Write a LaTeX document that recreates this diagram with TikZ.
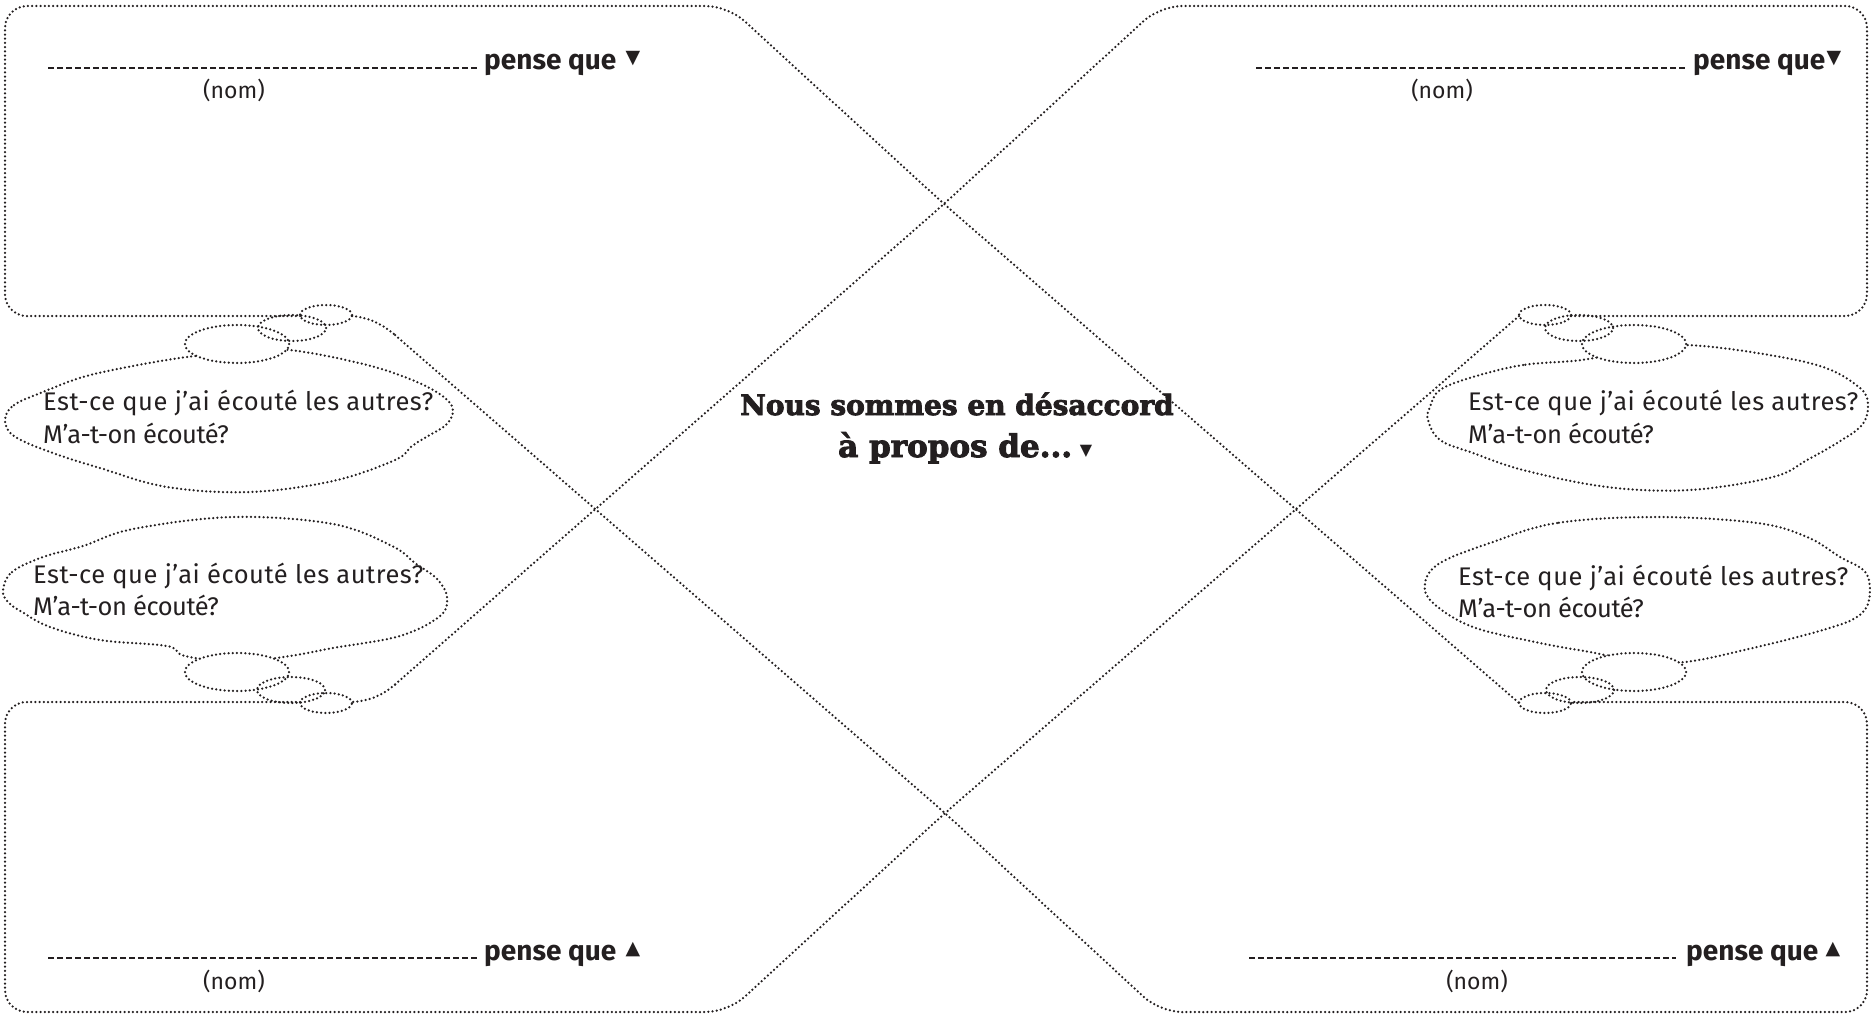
\documentclass[tikz,border=0pt]{standalone}
\usepackage{fontspec}
\setmainfont{Fira Sans}
\newfontfamily\slabfont[FakeBold=3]{DejaVu Serif}
\newfontfamily\symfont{DejaVu Sans}
\definecolor{ink}{HTML}{231F20}
\begin{document}
\begin{tikzpicture}[x=1pt,y=-1pt,
  dotline/.style={draw=ink, line width=2.5pt, line cap=round, dash pattern=on 0pt off 4.2pt},
  nameline/.style={draw=ink, line width=1.3pt, dash pattern=on 6pt off 3pt},
  question/.style={anchor=base west, inner sep=0pt, text=ink, font=\fontsize{25.5}{30}\selectfont\addfontfeature{LetterSpace=2}},
  questiontight/.style={question, font=\fontsize{25.5}{30}\selectfont\addfontfeature{LetterSpace=-2}},
  pense/.style={anchor=base west, inner sep=0pt, text=ink, font=\fontsize{28}{30}\selectfont\bfseries},
  nom/.style={anchor=base, inner sep=0pt, text=ink, font=\fontsize{23}{28}\selectfont},
  tri/.style={anchor=center, inner sep=0pt, text=ink, font=\symfont\fontsize{19}{20}\selectfont},
  title/.style={inner sep=0pt, text=ink, font=\slabfont\bfseries\fontsize{28}{32}\selectfont},
  bigell/.style={dotline, fill=white},
]
\useasboundingbox (0,0) rectangle (1871,1014);

% ---------- thought bubbles ----------
\draw[dotline] plot[smooth cycle, tension=0.6] coordinates {
 (5,420) (14,405) (43,392) (83,377) (133,366) (187,357) (240,352) (290,350)
 (367,365) (417,382) (445,398) (453,411) (446,425) (428,436) (412,446) (395,460)
 (333,481) (250,492) (167,487) (100,468) (50,452) (14,436)};
\draw[dotline] plot[smooth cycle, tension=0.6] coordinates {
 (3,590) (12,572) (43,557) (83,546) (133,529) (233,517) (333,524) (392,546)
 (415,563) (437,579) (447,597) (440,616) (400,636) (333,648) (290,656) (237,662)
 (185,656) (167,646) (100,640) (50,627) (22,612) (8,602)};
\draw[dotline] plot[smooth cycle, tension=0.6] coordinates {
 (1582,360) (1523,365) (1473,377) (1440,390) (1430,407) (1428,420) (1440,440)
 (1473,453) (1523,470) (1607,487) (1690,490) (1773,477) (1807,460) (1837,443)
 (1862,425) (1868,405) (1860,388) (1823,367) (1757,353) (1685,345) (1634,350)};
\draw[dotline] plot[smooth cycle, tension=0.6] coordinates {
 (1657,517) (1557,523) (1490,543) (1440,563) (1425,583) (1433,603) (1473,627)
 (1540,643) (1590,652) (1634,660) (1685,662) (1757,647) (1823,630) (1857,617)
 (1869,600) (1866,573) (1840,557) (1807,537) (1757,523)};

% ---------- small ellipses of the bubble chains ----------
\draw[bigell] (237,344) ellipse [x radius=52pt, y radius=19pt];
\draw[dotline] (292,328) ellipse [x radius=34pt, y radius=13pt];
\draw[dotline] (326,315) ellipse [x radius=26pt, y radius=10pt];

\draw[bigell] (237,672) ellipse [x radius=52pt, y radius=19pt];
\draw[dotline] (291,690) ellipse [x radius=34pt, y radius=13pt];
\draw[dotline] (326,703) ellipse [x radius=26pt, y radius=10pt];

\draw[bigell] (1634,344) ellipse [x radius=52pt, y radius=19pt];
\draw[dotline] (1579,328) ellipse [x radius=34pt, y radius=13pt];
\draw[dotline] (1545,315) ellipse [x radius=26pt, y radius=10pt];

\draw[bigell] (1634,672) ellipse [x radius=52pt, y radius=19pt];
\draw[dotline] (1580,690) ellipse [x radius=34pt, y radius=13pt];
\draw[dotline] (1545,703) ellipse [x radius=26pt, y radius=10pt];

% ---------- key points ----------
\coordinate (xTop) at (944,204);
\coordinate (xBot) at (945,813);
\coordinate (tlIn) at (300,316);
\coordinate (tlOut) at (352,316);
\coordinate (tlBend) at (395,335);
\coordinate (blIn) at (300,702);
\coordinate (blOut) at (352,702);
\coordinate (blBend) at (395,684.5);
\coordinate (trIn) at (1571,316);
\coordinate (trOut) at (1519,316);
\coordinate (brIn) at (1571,702);
\coordinate (brOut) at (1519,703);

% ---------- boxes and crossing lines ----------
\draw[dotline, rounded corners=22pt] (tlIn) -- (5,316) -- (5,6) -- (728,6) -- (xTop) -- (brOut);
\draw[dotline, rounded corners=22pt] (trIn) -- (1867,316) -- (1867,6) -- (1160,6) -- (xTop) -- (blBend);
\draw[dotline] (blBend) .. controls (381,696.8) and (366,701.5) .. (blOut);
\draw[dotline, rounded corners=22pt] (blIn) -- (5,702) -- (5,1012) -- (728,1012) -- (xBot) -- (trOut);
\draw[dotline] (tlOut) .. controls (366,317) and (381,322.8) .. (tlBend);
\draw[dotline, rounded corners=22pt] (tlBend) -- (xBot) -- (1160,1012) -- (1867,1012) -- (1867,702) -- (brIn);

% ---------- name lines ----------
\coordinate (nTLa) at (48,68);   \coordinate (nTLb) at (477,68);
\coordinate (nTRa) at (1256,68); \coordinate (nTRb) at (1686,68);
\coordinate (nBLa) at (48,958);  \coordinate (nBLb) at (477,958);
\coordinate (nBRa) at (1249,958);\coordinate (nBRb) at (1676,958);
\draw[nameline] (nTLa) -- (nTLb);
\draw[nameline] (nTRa) -- (nTRb);
\draw[nameline] (nBLa) -- (nBLb);
\draw[nameline] (nBRa) -- (nBRb);

\node[pense] (pTL) at (484,70) {pense que};
\node[tri] (tTL) at (633,59) {▼};
\node[pense] (pTR) at (1693,70) {pense que};
\node[tri] (tTR) at (1834,59) {▼};
\node[pense] (pBL) at (484,960) {pense que};
\node[tri] (tBL) at (633,950) {▲};
\node[pense] (pBR) at (1686,960) {pense que};
\node[tri] (tBR) at (1833,950) {▲};

\node[nom] (mTL) at (234,99) {(nom)};
\node[nom] (mTR) at (1442,99) {(nom)};
\node[nom] (mBL) at (234,989) {(nom)};
\node[nom] (mBR) at (1477,989) {(nom)};

% ---------- bubble texts ----------
\node[question] (q1a) at (43,410) {Est-ce que j’ai écouté les autres?};
\node[questiontight] (q1b) at (43,443) {M’a-t-on écouté?};
\node[question] (q2a) at (33,583) {Est-ce que j’ai écouté les autres?};
\node[questiontight] (q2b) at (33,615) {M’a-t-on écouté?};
\node[question] (q3a) at (1468,410) {Est-ce que j’ai écouté les autres?};
\node[questiontight] (q3b) at (1468,443) {M’a-t-on écouté?};
\node[question] (q4a) at (1458,585) {Est-ce que j’ai écouté les autres?};
\node[questiontight] (q4b) at (1458,617) {M’a-t-on écouté?};

% ---------- title ----------
\node[title, anchor=base] (t1) at (957,415) {Nous sommes en désaccord};
\node[title, anchor=base west, font=\slabfont\bfseries\fontsize{31}{32}\selectfont] (t2) at (838,457) {à propos de...};
\node[tri, font=\symfont\fontsize{16}{17}\selectfont] (t3) at (1086,451) {▼};
\end{tikzpicture}
\end{document}
